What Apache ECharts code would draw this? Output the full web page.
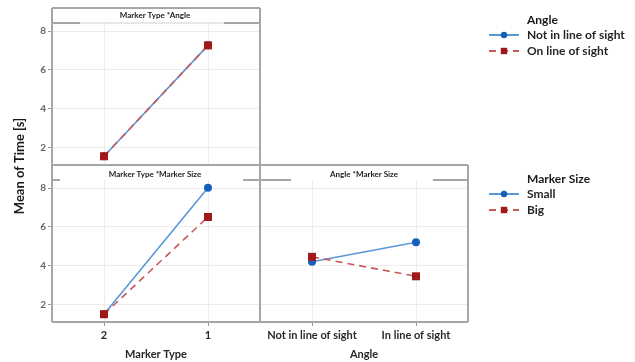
<!DOCTYPE html>
<html>
<head>
<meta charset="utf-8">
<script src="https://cdn.jsdelivr.net/npm/echarts@6/dist/echarts.min.js"></script>
<style>html,body{margin:0;padding:0;background:#fff;}#c{width:635px;height:362px;}</style>
</head>
<body>
<div id="c"></div>
<script>
// ---- data ----
const markerTypes = ['2', '1'];
const angleLevels = ['Not in line of sight', 'In line of sight'];
const angleLegend = ['Not in line of sight', 'On line of sight'];
const sizeLegend = ['Small', 'Big'];
const yTicks = [2, 4, 6, 8];

// Panel: Marker Type * Angle
const typeAngleNotInLine = [1.55, 7.25];
const typeAngleOnLine = [1.55, 7.25];
// Panel: Marker Type * Marker Size
const typeSizeSmall = [1.5, 8.0];
const typeSizeBig = [1.5, 6.5];
// Panel: Angle * Marker Size
const angleSizeSmall = [4.2, 5.2];
const angleSizeBig = [4.45, 3.45];

const FONT = 'Lato';
const frame = '#a6a6a6';
const blueMark = '#1560bd', blueLine = '#5a97d8';
const redMark = '#a01818', redLine = '#c65a5a';

function yAx(gi, showLabels) {
  return {
    type: 'value', gridIndex: gi, min: 1.1, max: 8.4,
    axisLine: {show: false},
    axisTick: {show: showLabels, length: 4, customValues: yTicks, lineStyle: {color: '#999'}},
    axisLabel: {show: showLabels, customValues: yTicks, fontFamily: FONT, fontSize: 10, fontWeight: 'bold', color: '#666', margin: 6},
    splitLine: {show: true, lineStyle: {color: '#ececec', width: 1}}
  };
}
function xAx(gi, cats, showLabels, name) {
  return {
    type: 'category', gridIndex: gi, data: cats, boundaryGap: true,
    axisLine: {show: false},
    axisTick: {show: showLabels, alignWithLabel: true, length: 4, lineStyle: {color: '#999'}},
    axisLabel: {show: showLabels, interval: 0, hideOverlap: false, fontFamily: FONT, fontSize: 11, fontWeight: 'bold', color: '#2a2a2a', margin: 8},
    splitLine: {show: true, alignWithLabel: true, lineStyle: {color: '#ececec', width: 1}},
    name: name || '', nameLocation: 'middle', nameGap: 27,
    nameTextStyle: {fontFamily: FONT, fontSize: 11, fontWeight: 'bold', color: '#262626'}
  };
}
function ser(name, data, gi, isBlue) {
  return {
    type: 'line', name: name, data: data, xAxisIndex: gi, yAxisIndex: gi,
    symbol: isBlue ? 'circle' : 'rect', symbolSize: 8,
    itemStyle: {color: isBlue ? blueMark : redMark},
    lineStyle: {color: isBlue ? blueLine : redLine, width: 1.6, type: isBlue ? 'solid' : [7, 5]},
    emphasis: {disabled: true}, animation: false, z: isBlue ? 2 : 3
  };
}
function ln(x1, y1, x2, y2, w, c) {
  return {type: 'line', shape: {x1: x1, y1: y1, x2: x2, y2: y2}, style: {stroke: c || frame, lineWidth: w || 2}, z: 50, silent: true};
}
function txt(s, x, y, size, align, extra) {
  return Object.assign({type: 'text', x: x, y: y, style: {text: s, fontFamily: FONT, fontSize: size, fontWeight: 'bold', fill: '#1a1a1a', align: align || 'center', verticalAlign: 'middle'}, z: 60, silent: true}, extra || {});
}
function legendCfg(names, top) {
  return {data: names, orient: 'vertical', left: 488, top: top, padding: 0, itemWidth: 30, itemHeight: 8, itemGap: 4,
    textStyle: {fontFamily: FONT, fontSize: 12, fontWeight: 'bold', color: '#262626', lineHeight: 12, padding: [0, 0, 0, 3]}, selectedMode: false};
}

const chart = echarts.init(document.getElementById('c'), null, {renderer: 'canvas'});
chart.setOption({
  backgroundColor: '#fff',
  animation: false,
  grid: [
    {left: 52, top: 23, width: 208, height: 142},
    {left: 52, top: 180, width: 208, height: 142},
    {left: 260, top: 180, width: 208, height: 142}
  ],
  xAxis: [xAx(0, markerTypes, false), xAx(1, markerTypes, true, 'Marker Type'), xAx(2, angleLevels, true, 'Angle')],
  yAxis: [yAx(0, true), yAx(1, true), yAx(2, false)],
  legend: [legendCfg(angleLegend, 29), legendCfg(sizeLegend, 188)],
  series: [
    ser(angleLegend[0], typeAngleNotInLine, 0, true),
    ser(angleLegend[1], typeAngleOnLine, 0, false),
    ser(sizeLegend[0], typeSizeSmall, 1, true),
    ser(sizeLegend[1], typeSizeBig, 1, false),
    ser(sizeLegend[0], angleSizeSmall, 2, true),
    ser(sizeLegend[1], angleSizeBig, 2, false)
  ],
  graphic: [
    // frame
    ln(52, 8, 52, 322), ln(260, 8, 260, 322), ln(468, 165, 468, 322),
    ln(52, 8, 260, 8), ln(52, 165, 468, 165), ln(52, 322, 468, 322),
    // header strips
    ln(52, 23, 260, 23, 1, '#d0d0d0'), ln(52, 23, 80, 23), ln(224, 23, 260, 23),
    ln(52, 180, 60, 180), ln(243, 180, 291, 180), ln(433, 180, 468, 180),
    txt('Marker Type *Angle', 155, 15.5, 8),
    txt('Marker Type *Marker Size', 155, 174, 8),
    txt('Angle *Marker Size', 364, 174, 8),
    // y title
    txt('Mean of Time [s]', 20, 166, 13, 'center', {rotation: Math.PI / 2}),
    // legend titles
    txt('Angle', 527, 20, 12, 'left'),
    txt('Marker Size', 527, 179, 12, 'left')
  ]
});
</script>
</body>
</html>
